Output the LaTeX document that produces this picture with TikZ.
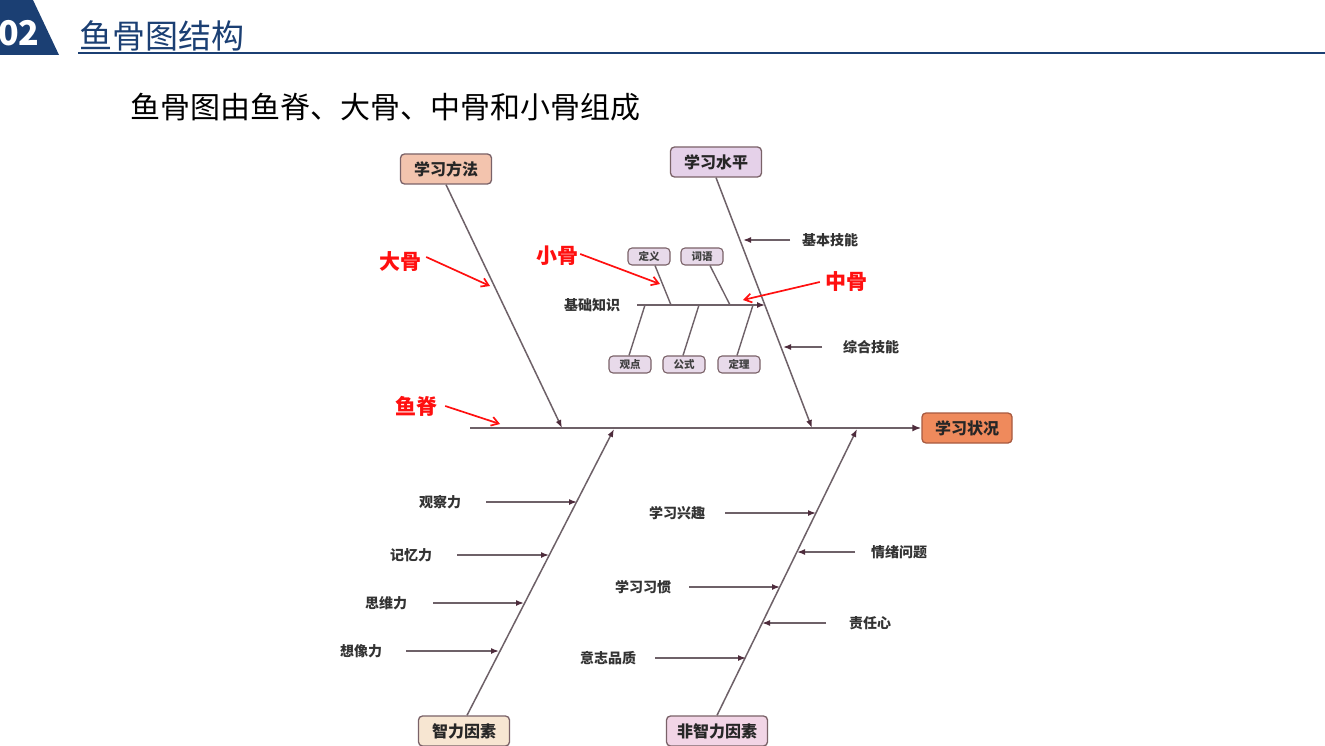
\documentclass[tikz,border=0pt]{standalone}
\usepackage{fontspec}
\setmainfont{Noto Sans CJK SC}
\usetikzlibrary{arrows.meta}
\definecolor{navy}{HTML}{1B3F73}
\definecolor{bonec}{HTML}{6E6168}
\definecolor{tipc}{HTML}{4E2C3C}
\definecolor{redc}{HTML}{FF1010}
\definecolor{boxline}{HTML}{7A6268}
\definecolor{fffangfa}{HTML}{F3C4AE}
\definecolor{ffshuiping}{HTML}{E5D1E9}
\definecolor{ffzk}{HTML}{EF8A5C}
\definecolor{ddzk}{HTML}{A85A40}
\definecolor{ffzhili}{HTML}{F7E6D2}
\definecolor{fffeizhili}{HTML}{F2D5E6}
\definecolor{ffsmall}{HTML}{E8DAEA}
\tikzset{
  bigbox/.style={draw=boxline, line width=1.3pt, rounded corners=4pt, minimum height=30pt, inner sep=0pt, font=\fontsize{16}{16}\selectfont\bfseries, text=black!85},
  smallbox/.style={draw=boxline, line width=1.1pt, rounded corners=4pt, minimum width=42pt, minimum height=17pt, inner sep=0pt, fill=ffsmall, font=\fontsize{10.5}{10.5}\selectfont\bfseries, text=black!75},
  lbl/.style={inner sep=0pt, font=\fontsize{14}{14}\selectfont\bfseries, text=black!80},
  redlbl/.style={inner sep=0pt, font=\fontsize{21}{21}\selectfont\bfseries, text=redc},
  spine/.style={draw=bonec, line width=1.8pt, -{Latex[length=9pt,width=7pt,color=tipc]}},
  bone/.style={draw=bonec, line width=1.5pt, -{Latex[length=8pt,width=6pt,color=tipc]}},
  sub/.style={draw=bonec, line width=1.5pt, -{Latex[length=8pt,width=6pt,color=tipc]}},
  twig/.style={draw=bonec, line width=1.4pt},
  redarrow/.style={draw=redc, line width=1.7pt, -{Straight Barb[length=7pt,width=9pt]}}
}
\begin{document}
\begin{tikzpicture}[x=1pt,y=-1pt]
\useasboundingbox[fill=white] (0,0) rectangle (1325,746);
% header
\fill[navy] (0,0) -- (33,0) -- (59,55) -- (0,55) -- cycle;
\node[inner sep=0pt, text=white, font=\fontsize{34}{34}\selectfont\bfseries] (num) at (19,33) {02};
\node[inner sep=0pt, text=navy, font=\fontsize{33}{33}\selectfont] (title) at (162,36) {鱼骨图结构};
\coordinate (hl1) at (78,53);
\coordinate (hl2) at (1325,53);
\draw[navy, line width=2.5pt] (hl1) -- (hl2);
\node[inner sep=0pt, text=black, font=\fontsize{30}{30}\selectfont] (sub) at (385,107) {鱼骨图由鱼脊、大骨、中骨和小骨组成};

% main boxes
\node[bigbox, fill=fffangfa, minimum width=91pt] (fangfa) at (446,169) {学习方法};
\node[bigbox, fill=ffshuiping, minimum width=91pt] (shuiping) at (716,162) {学习水平};
\node[bigbox, fill=ffzk, draw=ddzk, minimum width=90pt] (zk) at (967,428) {学习状况};
\node[bigbox, fill=ffzhili, minimum width=91pt] (zhili) at (464,731) {智力因素};
\node[bigbox, fill=fffeizhili, minimum width=101pt] (feizhili) at (717,731) {非智力因素};

% spine
\coordinate (tail) at (470,428);
\draw[spine] (tail) -- (zk.west);

% big bones
\coordinate (j1) at (562,428);
\coordinate (j2) at (812,428);
\coordinate (j3) at (614,429);
\coordinate (j4) at (857,429);
\draw[bone] (fangfa.south) -- (j1);
\draw[bone] (shuiping.south) -- (j2);
\draw[bone] ([xshift=3pt]zhili.north) -- (j3);
\draw[bone] (feizhili.north) -- (j4);

% upper right sub bones
\node[lbl] (jbjn) at (830,240) {基本技能};
\coordinate (a1) at (790,240); \coordinate (b1) at (743,240);
\draw[sub] (a1) -- (b1);
\node[lbl] (zhjn) at (871,347) {综合技能};
\coordinate (a2) at (822,347); \coordinate (b2) at (783,347);
\draw[sub] (a2) -- (b2);

% middle bone 基础知识
\node[lbl] (jczs) at (592,305) {基础知识};
\coordinate (m1) at (637,305); \coordinate (m2) at (765,305);
\draw[sub] (m1) -- (m2);
\node[smallbox] (dy) at (649,256.5) {定义};
\node[smallbox] (cy) at (702,256.5) {词语};
\node[smallbox] (gd) at (630,364.5) {观点};
\node[smallbox] (gs) at (684,364.5) {公式};
\node[smallbox] (dl) at (739,364.5) {定理};
\coordinate (t1) at (671,305); \coordinate (t2) at (730,305);
\coordinate (t3) at (645,305); \coordinate (t4) at (699,305); \coordinate (t5) at (753,305);
\draw[twig] ([xshift=6pt]dy.south) -- (t1);
\draw[twig] ([xshift=8pt]cy.south) -- (t2);
\draw[twig] ([xshift=-1pt]gd.north) -- (t3);
\draw[twig] ([xshift=-1pt]gs.north) -- (t4);
\draw[twig] ([xshift=-2pt]dl.north) -- (t5);

% lower left sub bones
\node[lbl] (gcl) at (440,502) {观察力};
\coordinate (c1) at (486,502); \coordinate (d1) at (577,502);
\draw[sub] (c1) -- (d1);
\node[lbl] (jyl) at (411,555) {记忆力};
\coordinate (c2) at (457,555); \coordinate (d2) at (549,555);
\draw[sub] (c2) -- (d2);
\node[lbl] (swl) at (386,603) {思维力};
\coordinate (c3) at (433,603); \coordinate (d3) at (524,603);
\draw[sub] (c3) -- (d3);
\node[lbl] (xxl) at (361,651) {想像力};
\coordinate (c4) at (406,651); \coordinate (d4) at (499,651);
\draw[sub] (c4) -- (d4);

% lower right sub bones
\node[lbl] (xxqq) at (677,513) {学习兴趣};
\coordinate (e1) at (725,513); \coordinate (f1) at (816,513);
\draw[sub] (e1) -- (f1);
\node[lbl] (qxwt) at (899,552) {情绪问题};
\coordinate (e2) at (855,552); \coordinate (f2) at (797,552);
\draw[sub] (e2) -- (f2);
\node[lbl] (xxxg) at (643,587) {学习习惯};
\coordinate (e3) at (689,587); \coordinate (f3) at (780,587);
\draw[sub] (e3) -- (f3);
\node[lbl] (zrx) at (870,623) {责任心};
\coordinate (e4) at (826,623); \coordinate (f4) at (762,623);
\draw[sub] (e4) -- (f4);
\node[lbl] (yzpz) at (608,658) {意志品质};
\coordinate (e5) at (655,658); \coordinate (f5) at (746,658);
\draw[sub] (e5) -- (f5);

% red annotations
\node[redlbl] (dg) at (400,262) {大骨};
\coordinate (r1) at (490,286);
\draw[redarrow] ([xshift=5pt,yshift=5pt]dg.east) -- (r1);
\node[redlbl] (xg) at (557,256) {小骨};
\coordinate (r2) at (660,284);
\draw[redarrow] ([xshift=2pt,yshift=2pt]xg.east) -- (r2);
\node[redlbl] (zg) at (846,282) {中骨};
\coordinate (r3) at (743,300);
\draw[redarrow] ([xshift=-5pt]zg.west) -- (r3);
\node[redlbl] (yj) at (416,406) {鱼脊};
\coordinate (r4) at (500,424);
\draw[redarrow] ([xshift=8pt]yj.east) -- (r4);
\end{tikzpicture}
\end{document}
